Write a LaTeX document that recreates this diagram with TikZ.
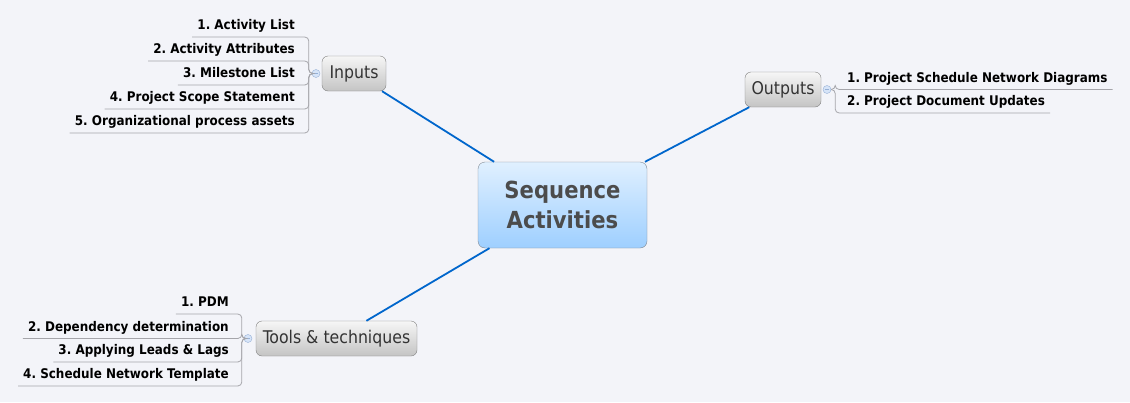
\documentclass[tikz,border=0pt]{standalone}
\usepackage{fontspec}
\setmainfont{DejaVu Sans Condensed}
\frenchspacing
\definecolor{bg}{RGB}{243,244,249}
\definecolor{ctop}{RGB}{224,240,255}
\definecolor{cbot}{RGB}{158,207,255}
\definecolor{cbord}{RGB}{128,136,146}
\definecolor{gtop}{RGB}{246,246,246}
\definecolor{gbot}{RGB}{196,196,196}
\definecolor{gbord}{RGB}{128,128,128}
\definecolor{conn}{RGB}{0,102,204}
\definecolor{twig}{RGB}{165,165,170}
\definecolor{mfill}{RGB}{214,228,248}
\definecolor{mbord}{RGB}{150,176,214}
\tikzset{
  central/.style={draw=cbord, rounded corners=7pt, top color=ctop, bottom color=cbot,
    minimum width=169pt, minimum height=86pt, align=center, text=black!70,
    font=\bfseries\fontsize{23.5}{30}\selectfont, inner sep=0pt},
  topic/.style={draw=gbord, rounded corners=6pt, top color=gtop, bottom color=gbot,
    minimum height=35pt, text=black!80, font=\fontsize{17.5}{20}\selectfont, inner sep=0pt},
  subtopic/.style={font=\bfseries\fontsize{13.3}{15}\selectfont, inner xsep=5pt, inner ysep=4.4pt,
    text height=9.6pt, text depth=2.8pt},
  marker/.style={circle, draw=mbord, fill=mfill, minimum size=8pt, inner sep=0pt,
    path picture={\draw[mbord, line width=0.6pt] ([xshift=1.8pt]path picture bounding box.west) -- ([xshift=-1.8pt]path picture bounding box.east);}},
  mainline/.style={conn, line width=1.8pt},
  twigline/.style={twig, line width=0.8pt, rounded corners=4pt},
}
\begin{document}
\begin{tikzpicture}[x=1pt, y=-1pt]
\fill[bg] (0,0) rectangle (1130,402);
\useasboundingbox (0,0) rectangle (1130,402);

% main nodes
\node[central] (c) at (562.5,205) {Sequence\\Activities};
\node[topic, minimum width=64pt] (in) at (354,73.5) {Inputs};
\node[topic, minimum width=76pt] (out) at (783,89.5) {Outputs};
\node[topic, minimum width=161pt] (tt) at (336.5,338.5) {Tools \& techniques};

\draw[mainline] (c) -- (in);
\draw[mainline] (c) -- (out);
\draw[mainline] (c) -- (tt);

% markers
\node[marker] (inm) at (316,73.5) {};
\node[marker] (outm) at (827,89.5) {};
\node[marker] (ttm) at (248,338.5) {};

% inputs children
\node[subtopic, anchor=south east] (i1) at (300,37) {1. Activity List};
\node[subtopic, anchor=south east] (i2) at (300,61) {2. Activity Attributes};
\node[subtopic, anchor=south east] (i3) at (300,85) {3. Milestone List};
\node[subtopic, anchor=south east] (i4) at (300,109) {4. Project Scope Statement};
\node[subtopic, anchor=south east] (i5) at (300,133) {5. Organizational process assets};
\foreach \k in {i1,i2,i3,i4,i5}
  \draw[twigline] (inm.west) -- ++(-3,0) |- (\k.south west);

% outputs children
\node[subtopic, anchor=south west] (o1) at (842,89.5) {1. Project Schedule Network Diagrams};
\node[subtopic, anchor=south west] (o2) at (842,113) {2. Project Document Updates};
\foreach \k in {o1,o2}
  \draw[twigline] (outm.east) -- ++(4,0) |- (\k.south east);

% tools children
\node[subtopic, anchor=south east] (t1) at (234,314) {1. PDM};
\node[subtopic, anchor=south east] (t2) at (234,338.5) {2. Dependency determination};
\node[subtopic, anchor=south east] (t3) at (234,362) {3. Applying Leads \& Lags};
\node[subtopic, anchor=south east] (t4) at (234,386) {4. Schedule Network Template};
\foreach \k in {t1,t2,t3,t4}
  \draw[twigline] (ttm.west) -- ++(-2,0) |- (\k.south west);
\end{tikzpicture}
\end{document}
